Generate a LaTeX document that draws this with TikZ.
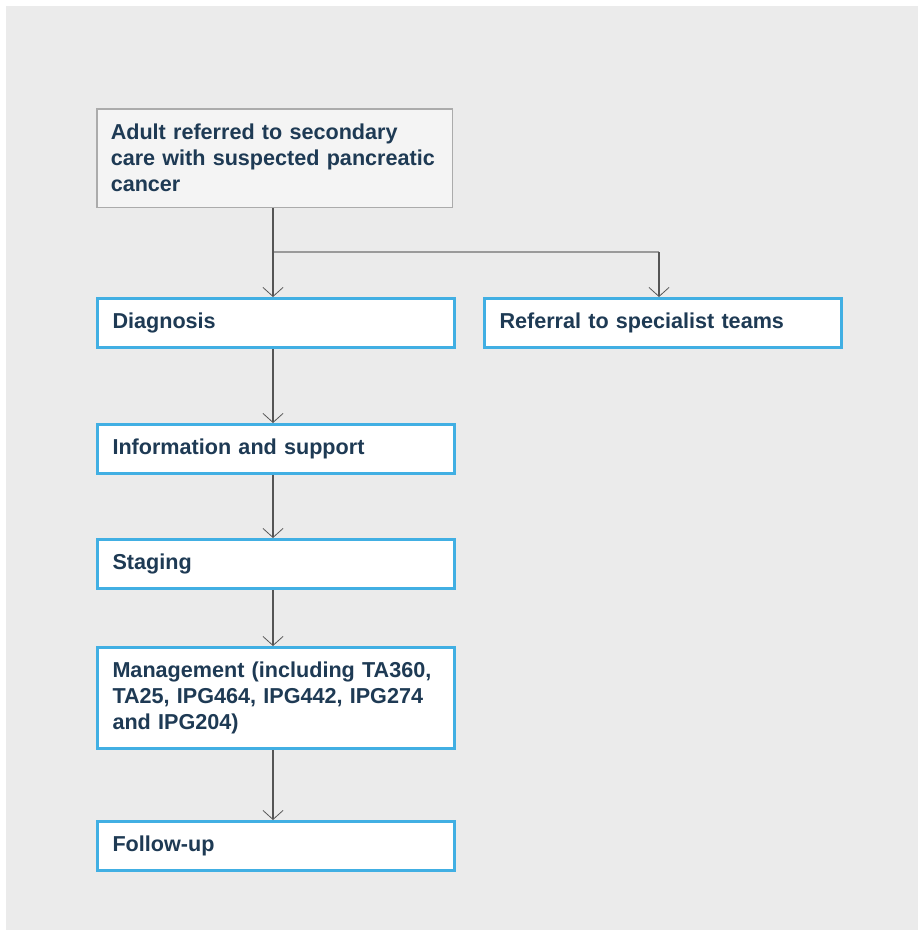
\documentclass[tikz,border=0pt]{standalone}
\usepackage{fontspec}
\setmainfont{Liberation Sans}
\usetikzlibrary{arrows.meta}
\definecolor{bgc}{HTML}{EBEBEB}
\definecolor{topfill}{HTML}{F4F4F4}
\definecolor{topline}{HTML}{ABABAB}
\definecolor{boxblue}{HTML}{41AFE3}
\definecolor{txt}{HTML}{1E3A54}
\definecolor{conn}{HTML}{555555}
\definecolor{branchc}{HTML}{9A9A9A}
\tikzset{
  boxtext/.style={font=\fontsize{21.6}{26}\selectfont\bfseries, text=txt, align=left},
  bluebox/.style={boxtext, draw=boxblue, line width=3pt, fill=white, rectangle,
    inner xsep=15pt, inner ysep=0pt, text width=327pt, minimum height=49pt},
  graybox/.style={boxtext, draw=topline, line width=1.5pt, fill=topfill, rectangle,
    inner xsep=14pt, inner ysep=0pt, text width=327.5pt, minimum height=98.5pt},
  link/.style={draw=conn, line width=1.1pt, -{Straight Barb[length=9pt,width=20pt,line width=0.8pt]}},
  branch/.style={draw=branchc, line width=2.5pt},
}
\begin{document}
\begin{tikzpicture}[x=1pt,y=-1pt]
\useasboundingbox (0,0) rectangle (918,930);
\fill[bgc] (6,6) rectangle (918,930);

\coordinate (spine) at (273,0);
\coordinate (rx) at (659,0);
\coordinate (br) at (273,252);

\node[graybox] (top) at (274.5,158) {Adult referred to secondary\\care with suspected pancreatic\\cancer};
\node[bluebox] (diag) at (276,323) {Diagnosis};
\node[bluebox] (ref) at (663,323) {Referral to specialist teams};
\node[bluebox] (info) at (276,449) {Information and support};
\node[bluebox] (stag) at (276,564) {Staging};
\node[bluebox, minimum height=101pt] (mgmt) at (276,698) {Management (including TA360,\\TA25, IPG464, IPG442, IPG274\\and IPG204)};
\node[bluebox] (fol) at (276,846) {Follow-up};

\draw[branch] (br) -- (br -| rx);
\draw[link] (top.south -| spine) -- (diag.north -| spine);
\draw[link] (br -| rx) -- (ref.north -| rx);
\draw[link] (diag.south -| spine) -- (info.north -| spine);
\draw[link] (info.south -| spine) -- (stag.north -| spine);
\draw[link] (stag.south -| spine) -- (mgmt.north -| spine);
\draw[link] (mgmt.south -| spine) -- (fol.north -| spine);
\end{tikzpicture}
\end{document}
